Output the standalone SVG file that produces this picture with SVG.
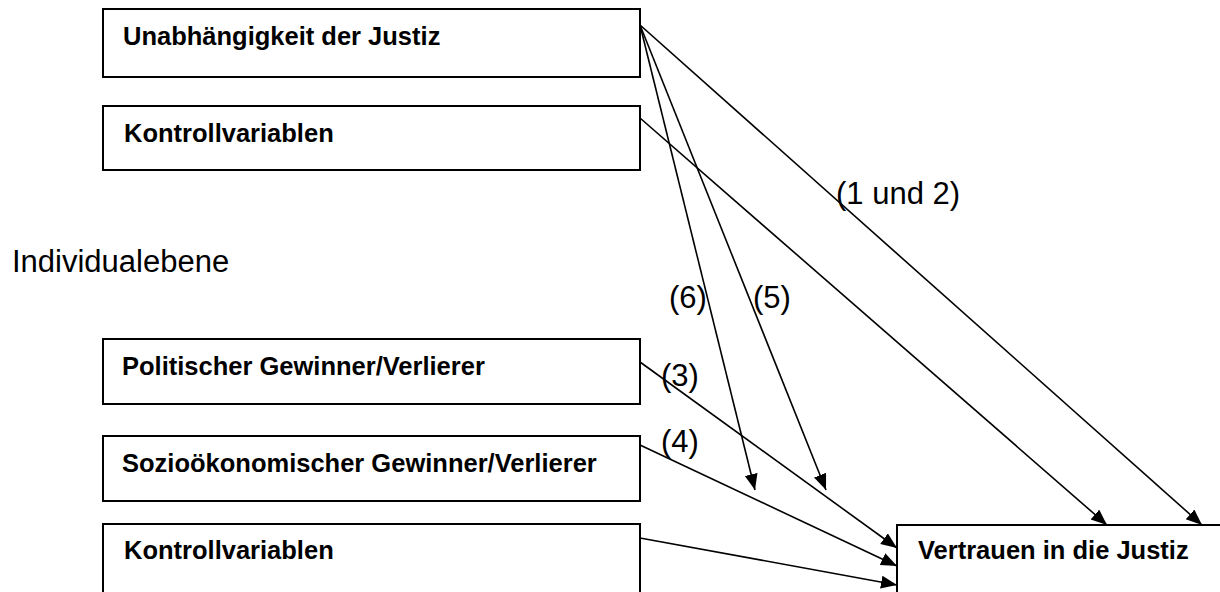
<svg xmlns="http://www.w3.org/2000/svg" width="1220" height="592" viewBox="0 0 1220 592">
<style>
.box{fill:#fff;stroke:#000;stroke-width:2}
.bt{font-family:"Liberation Sans",Arial,sans-serif;font-weight:bold;font-size:25.5px;fill:#000}
.lt{font-family:"Liberation Sans",Arial,sans-serif;font-size:31px;fill:#000}
.c{stroke:#000;stroke-width:1.6;fill:none;marker-end:url(#ah)}
</style>
<defs>
<marker id="ah" markerUnits="userSpaceOnUse" markerWidth="17" markerHeight="14" refX="16" refY="6.5" orient="auto">
<path d="M0,0 L16,6.5 L0,13 z" fill="#000"/>
</marker>
</defs>
<rect width="1220" height="592" fill="#fff"/>
<g id="node-unabhaengigkeit"><rect class="box" x="103" y="9" width="537" height="68"/><text class="bt" x="123" y="45">Unabhängigkeit der Justiz</text></g>
<g id="node-kontroll-makro"><rect class="box" x="103" y="106" width="537" height="64"/><text class="bt" x="124" y="142">Kontrollvariablen</text></g>
<g id="node-politisch"><rect class="box" x="103" y="339" width="537" height="65"/><text class="bt" x="122" y="375">Politischer Gewinner/Verlierer</text></g>
<g id="node-sozio"><rect class="box" x="103" y="436" width="537" height="65"/><text class="bt" x="122" y="472">Sozioökonomischer Gewinner/Verlierer</text></g>
<g id="node-kontroll-ind"><rect class="box" x="103" y="524" width="537" height="80"/><text class="bt" x="124" y="559">Kontrollvariablen</text></g>
<g id="node-vertrauen"><rect class="box" x="897" y="525" width="340" height="80"/><text class="bt" x="918" y="559">Vertrauen in die Justiz</text></g>
<g id="level-label"><text class="lt" x="12" y="272">Individualebene</text></g>
<g id="connectors">
<line class="c" x1="640" y1="25" x2="1202" y2="525"/>
<line class="c" x1="640" y1="118" x2="1107" y2="525"/>
<line class="c" x1="640" y1="25" x2="755" y2="490"/>
<line class="c" x1="640" y1="25" x2="826" y2="490"/>
<line class="c" x1="640" y1="362" x2="897" y2="548"/>
<line class="c" x1="640" y1="445" x2="897" y2="566"/>
<line class="c" x1="640" y1="538" x2="897" y2="585"/>
</g>
<g id="connector-labels">
<text class="lt" x="836" y="204">(1 und 2)</text>
<text class="lt" x="669" y="308">(6)</text>
<text class="lt" x="753" y="308">(5)</text>
<text class="lt" x="661" y="386">(3)</text>
<text class="lt" x="661" y="452">(4)</text>
</g>
</svg>
